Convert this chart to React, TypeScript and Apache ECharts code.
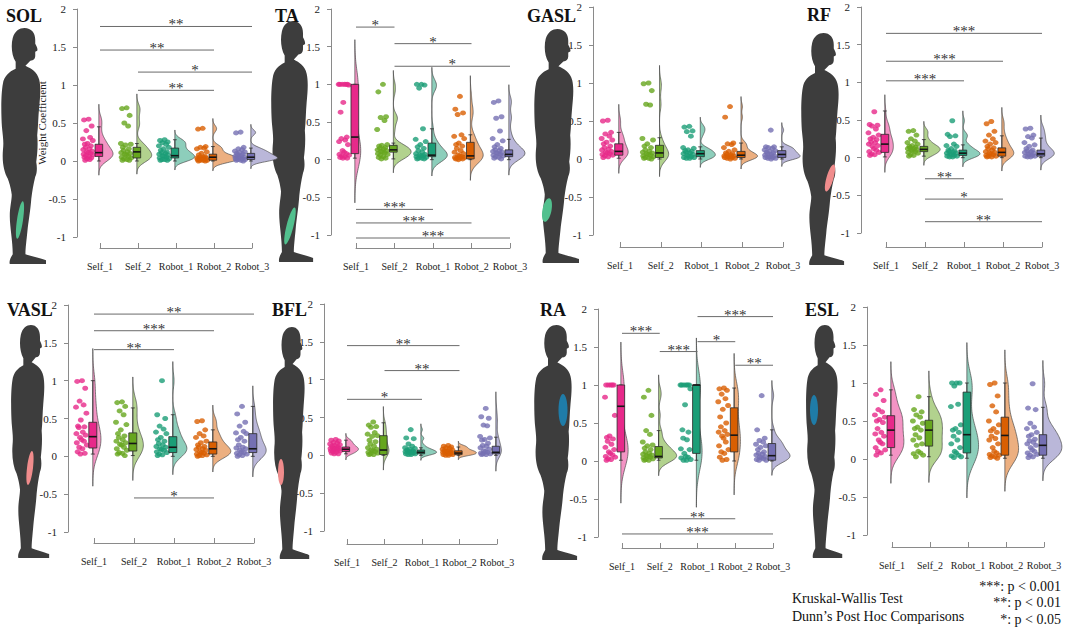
import React, { useEffect, useRef } from "react";
import * as echarts from "echarts";

// ---------------- data ----------------
const CATEGORIES = ["Self_1", "Self_2", "Robot_1", "Robot_2", "Robot_3"];
const MUSCLE_NAMES = ["SOL", "TA", "GASL", "RF", "VASL", "BFL", "RA", "ESL"];
const Y_MIN = -1;
const Y_MAX = 2;
const Y_STEP = 0.5;

// per muscle: one list of weight coefficients per category
const SOL_POINTS = [
  [0.55, 0.54, 0.46, 0.4, 0.31, 0.29, 0.27, 0.23, 0.22, 0.2, 0.18, 0.16, 0.15, 0.13, 0.12, 0.11, 0.1, 0.09, 0.08, 0.07, 0.06, 0.05, 0.04, 0.03, 0.02, 0.01],
  [0.7, 0.69, 0.6, 0.5, 0.46, 0.23, 0.22, 0.21, 0.18, 0.16, 0.14, 0.12, 0.11, 0.1, 0.09, 0.08, 0.06, 0.05, 0.04, 0.03, 0.02, 0.01, 0.01],
  [0.28, 0.27, 0.25, 0.24, 0.22, 0.2, 0.18, 0.16, 0.14, 0.12, 0.11, 0.1, 0.09, 0.08, 0.07, 0.06, 0.05, 0.04, 0.03, 0.02, 0.02, 0.01, 0.01],
  [0.43, 0.42, 0.19, 0.18, 0.17, 0.16, 0.12, 0.1, 0.08, 0.06, 0.05, 0.05, 0.04, 0.04, 0.03, 0.03, 0.02, 0.02, 0.01, 0.01, 0.01, 0.0, 0.0],
  [0.38, 0.37, 0.18, 0.16, 0.15, 0.13, 0.12, 0.11, 0.1, 0.09, 0.08, 0.07, 0.06, 0.05, 0.05, 0.04, 0.03, 0.03, 0.02, 0.02, 0.01, 0.01, 0.0],
];
const TA_POINTS = [
  [1.0, 1.0, 1.0, 1.0, 1.0, 1.0, 0.99, 0.76, 0.63, 0.3, 0.28, 0.26, 0.24, 0.2, 0.12, 0.1, 0.08, 0.07, 0.06, 0.05, 0.04, 0.03, 0.02, 0.02],
  [1.0, 0.9, 0.57, 0.56, 0.52, 0.4, 0.2, 0.19, 0.18, 0.16, 0.15, 0.14, 0.13, 0.12, 0.11, 0.1, 0.09, 0.08, 0.07, 0.06, 0.04, 0.03, 0.02, 0.01],
  [1.0, 1.0, 0.99, 0.95, 0.41, 0.27, 0.24, 0.2, 0.17, 0.15, 0.12, 0.1, 0.08, 0.07, 0.06, 0.05, 0.05, 0.04, 0.03, 0.02, 0.02, 0.01, 0.01],
  [0.84, 0.67, 0.62, 0.6, 0.33, 0.31, 0.28, 0.22, 0.2, 0.18, 0.15, 0.12, 0.1, 0.08, 0.06, 0.05, 0.04, 0.03, 0.03, 0.02, 0.02, 0.01, 0.01, 0.0],
  [0.78, 0.76, 0.57, 0.55, 0.38, 0.28, 0.25, 0.2, 0.17, 0.15, 0.13, 0.12, 0.11, 0.1, 0.09, 0.08, 0.07, 0.06, 0.05, 0.04, 0.03, 0.02, 0.01],
];
const GASL_POINTS = [
  [0.51, 0.5, 0.35, 0.33, 0.3, 0.27, 0.25, 0.22, 0.2, 0.17, 0.15, 0.13, 0.12, 0.1, 0.09, 0.08, 0.07, 0.06, 0.05, 0.04, 0.03, 0.02],
  [1.0, 0.99, 0.9, 0.72, 0.71, 0.27, 0.25, 0.2, 0.17, 0.15, 0.12, 0.1, 0.09, 0.08, 0.07, 0.06, 0.05, 0.04, 0.03, 0.02, 0.01, 0.01, 0.0],
  [0.43, 0.42, 0.37, 0.36, 0.3, 0.15, 0.14, 0.12, 0.11, 0.1, 0.09, 0.08, 0.07, 0.06, 0.05, 0.04, 0.03, 0.02, 0.02, 0.01, 0.01],
  [0.69, 0.55, 0.21, 0.2, 0.19, 0.15, 0.12, 0.1, 0.08, 0.07, 0.06, 0.05, 0.04, 0.04, 0.03, 0.03, 0.02, 0.02, 0.01, 0.01, 0.0],
  [0.38, 0.16, 0.16, 0.15, 0.14, 0.12, 0.11, 0.1, 0.09, 0.08, 0.07, 0.06, 0.05, 0.04, 0.03, 0.03, 0.02, 0.02, 0.01, 0.01, 0.0],
];
const RF_POINTS = [
  [0.61, 0.44, 0.43, 0.42, 0.38, 0.33, 0.3, 0.27, 0.25, 0.24, 0.21, 0.2, 0.18, 0.16, 0.15, 0.12, 0.1, 0.08, 0.07, 0.05, 0.04, 0.03],
  [0.36, 0.35, 0.3, 0.25, 0.22, 0.2, 0.18, 0.16, 0.15, 0.14, 0.13, 0.12, 0.12, 0.11, 0.1, 0.09, 0.08, 0.07, 0.06, 0.04, 0.03, 0.02],
  [0.49, 0.31, 0.29, 0.28, 0.18, 0.16, 0.15, 0.12, 0.1, 0.09, 0.08, 0.07, 0.06, 0.06, 0.05, 0.04, 0.03, 0.02, 0.02, 0.01, 0.01],
  [0.48, 0.45, 0.35, 0.3, 0.25, 0.22, 0.2, 0.18, 0.15, 0.13, 0.12, 0.1, 0.08, 0.07, 0.06, 0.05, 0.04, 0.03, 0.02, 0.02, 0.01, 0.01],
  [0.39, 0.38, 0.3, 0.28, 0.26, 0.2, 0.17, 0.15, 0.12, 0.1, 0.09, 0.08, 0.07, 0.06, 0.05, 0.04, 0.03, 0.02, 0.02, 0.01, 0.01],
];
const VASL_POINTS = [
  [1.0, 0.99, 0.9, 0.73, 0.68, 0.65, 0.57, 0.48, 0.4, 0.39, 0.38, 0.32, 0.3, 0.28, 0.25, 0.22, 0.2, 0.18, 0.15, 0.12, 0.1, 0.06, 0.04, 0.03],
  [0.72, 0.71, 0.66, 0.6, 0.55, 0.45, 0.42, 0.35, 0.3, 0.27, 0.25, 0.22, 0.2, 0.18, 0.16, 0.15, 0.12, 0.1, 0.08, 0.05, 0.04, 0.03, 0.01],
  [1.0, 0.55, 0.5, 0.4, 0.36, 0.32, 0.3, 0.25, 0.22, 0.2, 0.17, 0.15, 0.13, 0.12, 0.1, 0.09, 0.08, 0.06, 0.05, 0.03, 0.02, 0.01],
  [0.47, 0.46, 0.35, 0.3, 0.27, 0.25, 0.2, 0.18, 0.15, 0.13, 0.12, 0.1, 0.09, 0.08, 0.06, 0.05, 0.04, 0.03, 0.02, 0.01, 0.01, 0.0],
  [0.66, 0.56, 0.45, 0.4, 0.33, 0.31, 0.3, 0.25, 0.22, 0.2, 0.15, 0.12, 0.11, 0.1, 0.08, 0.06, 0.05, 0.04, 0.03, 0.02, 0.01, 0.0],
];
const BFL_POINTS = [
  [0.21, 0.2, 0.19, 0.17, 0.16, 0.15, 0.14, 0.13, 0.12, 0.11, 0.1, 0.1, 0.09, 0.09, 0.08, 0.08, 0.07, 0.06, 0.06, 0.05, 0.04, 0.03, 0.02, 0.02],
  [0.44, 0.4, 0.38, 0.37, 0.3, 0.28, 0.26, 0.25, 0.2, 0.18, 0.15, 0.12, 0.1, 0.08, 0.07, 0.06, 0.05, 0.04, 0.03, 0.02, 0.01, 0.01],
  [0.34, 0.23, 0.22, 0.15, 0.12, 0.1, 0.09, 0.08, 0.07, 0.06, 0.06, 0.05, 0.05, 0.04, 0.04, 0.03, 0.03, 0.02, 0.02, 0.01, 0.01],
  [0.13, 0.12, 0.11, 0.1, 0.09, 0.08, 0.07, 0.06, 0.06, 0.05, 0.05, 0.04, 0.04, 0.03, 0.03, 0.02, 0.02, 0.01, 0.01, 0.0, 0.0],
  [0.62, 0.51, 0.49, 0.4, 0.39, 0.25, 0.23, 0.21, 0.2, 0.16, 0.13, 0.12, 0.1, 0.08, 0.06, 0.05, 0.04, 0.03, 0.02, 0.02, 0.01, 0.01],
];
const RA_POINTS = [
  [1.0, 1.0, 1.0, 1.0, 1.0, 0.84, 0.6, 0.33, 0.31, 0.29, 0.26, 0.22, 0.18, 0.15, 0.12, 0.1, 0.08, 0.06, 0.05, 0.03, 0.02, 0.01],
  [0.93, 0.84, 0.6, 0.4, 0.35, 0.25, 0.21, 0.2, 0.17, 0.15, 0.12, 0.1, 0.09, 0.08, 0.07, 0.06, 0.05, 0.04, 0.03, 0.02, 0.01, 0.01],
  [1.0, 1.0, 1.0, 1.0, 1.0, 1.0, 0.95, 0.74, 0.41, 0.38, 0.3, 0.28, 0.16, 0.15, 0.1, 0.06, 0.05, 0.04, 0.02, 0.01, 0.01],
  [0.96, 0.95, 0.93, 0.88, 0.82, 0.78, 0.73, 0.68, 0.58, 0.5, 0.45, 0.4, 0.38, 0.35, 0.33, 0.3, 0.25, 0.2, 0.15, 0.12, 0.1, 0.05, 0.02, 0.01],
  [0.86, 0.41, 0.3, 0.27, 0.25, 0.22, 0.2, 0.18, 0.15, 0.12, 0.1, 0.09, 0.08, 0.06, 0.05, 0.04, 0.03, 0.02, 0.01, 0.01],
];
const ESL_POINTS = [
  [0.91, 0.85, 0.77, 0.65, 0.62, 0.58, 0.55, 0.52, 0.5, 0.48, 0.4, 0.35, 0.33, 0.3, 0.25, 0.22, 0.2, 0.15, 0.12, 0.1, 0.08, 0.05],
  [0.82, 0.65, 0.62, 0.58, 0.55, 0.5, 0.47, 0.42, 0.4, 0.38, 0.32, 0.28, 0.25, 0.2, 0.18, 0.1, 0.08, 0.07, 0.05, 0.03],
  [1.0, 1.0, 1.0, 0.96, 0.72, 0.69, 0.45, 0.4, 0.38, 0.35, 0.3, 0.25, 0.2, 0.15, 0.1, 0.08, 0.05, 0.04, 0.03, 0.02],
  [1.0, 0.98, 0.83, 0.7, 0.62, 0.5, 0.45, 0.4, 0.37, 0.35, 0.3, 0.27, 0.25, 0.2, 0.15, 0.1, 0.08, 0.06, 0.05, 0.04, 0.03, 0.02, 0.01],
  [0.99, 0.67, 0.65, 0.47, 0.42, 0.4, 0.35, 0.32, 0.3, 0.26, 0.24, 0.22, 0.2, 0.18, 0.15, 0.12, 0.1, 0.08, 0.06, 0.05, 0.03, 0.02],
];

// box statistics per category: [lower whisker, Q1, median, Q3, upper whisker]
const SOL_BOX = [[0.0, 0.06, 0.11, 0.22, 0.45], [0.0, 0.04, 0.12, 0.18, 0.23], [0.0, 0.04, 0.07, 0.17, 0.28], [0.0, 0.01, 0.05, 0.09, 0.19], [0.0, 0.02, 0.05, 0.1, 0.17]];
const TA_BOX = [[0.02, 0.08, 0.3, 1.0, 1.0], [0.01, 0.1, 0.13, 0.19, 0.22], [0.0, 0.04, 0.06, 0.22, 0.41], [0.0, 0.01, 0.05, 0.23, 0.33], [0.0, 0.04, 0.07, 0.13, 0.27]];
const GASL_BOX = [[0.01, 0.05, 0.1, 0.2, 0.35], [0.0, 0.02, 0.08, 0.18, 0.28], [0.0, 0.03, 0.07, 0.11, 0.16], [0.0, 0.02, 0.05, 0.1, 0.21], [0.0, 0.02, 0.06, 0.11, 0.16]];
const RF_BOX = [[0.01, 0.07, 0.18, 0.31, 0.62], [0.02, 0.08, 0.11, 0.15, 0.24], [0.0, 0.03, 0.06, 0.1, 0.17], [0.0, 0.02, 0.07, 0.13, 0.29], [0.0, 0.02, 0.05, 0.1, 0.26]];
const VASL_BOX = [[0.03, 0.11, 0.26, 0.45, 1.0], [0.01, 0.07, 0.17, 0.31, 0.64], [0.0, 0.05, 0.12, 0.26, 0.55], [0.0, 0.03, 0.1, 0.19, 0.35], [0.0, 0.05, 0.1, 0.3, 0.66]];
const BFL_BOX = [[0.02, 0.05, 0.08, 0.11, 0.2], [0.0, 0.01, 0.07, 0.26, 0.43], [0.0, 0.02, 0.04, 0.07, 0.1], [0.0, 0.01, 0.03, 0.06, 0.11], [0.0, 0.02, 0.04, 0.12, 0.24]];
const RA_BOX = [[0.01, 0.12, 0.72, 1.0, 1.0], [0.01, 0.04, 0.06, 0.19, 0.4], [0.01, 0.1, 1.0, 1.0, 1.0], [0.0, 0.12, 0.34, 0.7, 0.96], [0.0, 0.01, 0.07, 0.23, 0.41]];
const ESL_BOX = [[0.05, 0.15, 0.38, 0.57, 0.91], [0.03, 0.17, 0.38, 0.51, 0.82], [0.01, 0.08, 0.32, 0.88, 1.0], [0.01, 0.05, 0.31, 0.55, 1.0], [0.01, 0.05, 0.18, 0.32, 0.68]];

// Dunn's post hoc comparisons: [from category (1-based), to category, bar height, label]
const SOL_SIG = [[1, 5, 1.77, "**"], [1, 4, 1.46, "**"], [2, 5, 1.17, "*"], [2, 4, 0.93, "**"]];
const TA_SIG = [[1, 2, 1.76, "*"], [2, 4, 1.54, "*"], [2, 5, 1.24, "*"], [1, 3, -0.66, "***"], [1, 4, -0.84, "***"], [1, 5, -1.04, "***"]];
const GASL_SIG: any[] = [];
const RF_SIG = [[1, 5, 1.65, "***"], [1, 4, 1.28, "***"], [1, 3, 1.02, "***"], [2, 3, -0.28, "**"], [2, 4, -0.55, "*"], [2, 5, -0.85, "**"]];
const VASL_SIG = [[1, 5, 1.88, "**"], [1, 4, 1.66, "***"], [1, 3, 1.41, "**"], [2, 4, -0.55, "*"]];
const BFL_SIG = [[1, 4, 1.45, "**"], [2, 4, 1.12, "**"], [1, 3, 0.74, "*"]];
const RA_SIG = [[3, 5, 1.9, "***"], [1, 2, 1.68, "***"], [3, 4, 1.57, "*"], [2, 3, 1.44, "***"], [4, 5, 1.26, "**"], [2, 4, -0.76, "**"], [1, 5, -0.96, "***"]];
const ESL_SIG: any[] = [];

const LEGEND_LEFT = ["Kruskal-Wallis Test", "Dunn\u2019s Post Hoc Comparisons"];
const LEGEND_RIGHT = ["***: p < 0.001", "**: p < 0.01", "*: p < 0.05"];

const POINTS = [SOL_POINTS, TA_POINTS, GASL_POINTS, RF_POINTS, VASL_POINTS, BFL_POINTS, RA_POINTS, ESL_POINTS];
const BOXES = [SOL_BOX, TA_BOX, GASL_BOX, RF_BOX, VASL_BOX, BFL_BOX, RA_BOX, ESL_BOX];
const SIGS = [SOL_SIG, TA_SIG, GASL_SIG, RF_SIG, VASL_SIG, BFL_SIG, RA_SIG, ESL_SIG];

// ---------------- styles / layout ----------------
const FONT = "'Liberation Serif', 'Times New Roman', serif";
const GROUP_COLORS = ["#E7298A", "#66A61E", "#1B9E77", "#D95F02", "#7570B3"];
const VIOLIN_FILLS = ["#F394C4", "#B2D28E", "#8DCEBB", "#ECAF80", "#BAB7D9"];
const GREEN = "#52C08E";
const PINK = "#F08C8C";
const BLUE = "#1F7CA8";
const JITTER = [-0.3, -0.42, -0.22, -0.36, -0.26, -0.45, -0.19, -0.33, -0.4, -0.24, -0.38, -0.28, -0.44, -0.21, -0.35, -0.31, -0.25, -0.43, -0.18, -0.37, -0.29, -0.41, -0.23, -0.34, -0.27, -0.39, -0.2, -0.32];
const BOX_OFFSET = -0.03;
const BOX_HALF = 0.1;
const CAP_HALF = 0.05;

const LAYOUT = [
  { grid: { left: 100, top: 9, width: 152, height: 228 }, yOff: 23, xOff: 11, sil: [0, 28, 47, 236], title: [6, 16], muscle: [20, 220, 3, 19, -0.15], mColor: GREEN, vw: 0.7 },
  { grid: { left: 356, top: 9, width: 154, height: 226 }, yOff: 25, xOff: 13, sil: [270, 21, 44, 241], title: [275, 16], muscle: [290, 226, 3.5, 19, -0.25], mColor: GREEN, vw: 0.46 },
  { grid: { left: 620, top: 7, width: 163, height: 228 }, yOff: 27, xOff: 12, sil: [533, 29, 47, 234], title: [527, 16], muscle: [547, 210, 4.5, 12, -0.2], mColor: GREEN, vw: 0.45 },
  { grid: { left: 886, top: 7, width: 156, height: 226 }, yOff: 25, xOff: 14, sil: [800, 33, 45, 232], title: [807, 15], muscle: [830, 178, 3.5, 14, -0.28], mColor: PINK, vw: 0.44 },
  { grid: { left: 94, top: 305, width: 160, height: 227 }, yOff: 26, xOff: 11, sil: [10, 325, 40, 233], title: [7, 310], muscle: [30, 468, 3, 17, -0.12], mColor: PINK, vw: 0.45 },
  { grid: { left: 347, top: 304, width: 150, height: 227 }, yOff: 23, xOff: 13, sil: [272, 327, 38, 232], title: [272, 310], muscle: [281, 472, 3, 13, 0], mColor: PINK, vw: 0.48 },
  { grid: { left: 622, top: 309, width: 151, height: 228 }, yOff: 24, xOff: 11, sil: [533, 325, 45, 235], title: [540, 310], muscle: [563, 410, 4.5, 16, 0], mColor: BLUE, vw: 0.48 },
  { grid: { left: 892, top: 307, width: 152, height: 228 }, yOff: 25, xOff: 12, sil: [805, 325, 38, 233], title: [805, 310], muscle: [814, 410, 4, 15, 0], mColor: BLUE, vw: 0.5 },
];

// human silhouette (side view, facing right) in a 48 x 238 box
const HUMAN_PATH =
  "M 25 0 C 32 0 36 5 36 12 L 36 16 C 37 18 39 21 38 23 L 36 24 L 36 28 C 36 31 34 33 31 33 L 26 38 " +
  "C 32 41 38 44 40 52 C 42 60 41 70 40 80 C 39 90 39 100 38 108 C 39 118 38 128 37 135 " +
  "C 38 140 38 146 36 150 C 34 158 33 164 32 172 C 31 185 29 195 28 205 C 27 215 26 222 26 228 " +
  "C 32 230 42 232 47 234 L 47 238 L 10 238 C 9 235 11 231 13 228 C 13 215 10 200 10 190 " +
  "C 10 180 12 174 12 168 C 11 160 9 155 8 152 C 4 145 2 135 3 123 C 4 115 3 110 2 100 " +
  "C 1 85 1 66 3 56 C 4 49 9 44 16 41 L 16 34 C 12 28 11 18 13 10 C 15 3 20 0 25 0 Z";
const HUMAN_W = 48;
const HUMAN_H = 238;

let shapeRegistered = false;
function registerHuman() {
  if (shapeRegistered) return;
  echarts.graphic.registerShape("human", echarts.graphic.extendPath(HUMAN_PATH, {}) as any);
  shapeRegistered = true;
}

// ---------------- helpers ----------------
function quantile(sorted: number[], q: number) {
  const pos = (sorted.length - 1) * q;
  const lo = Math.floor(pos);
  const hi = Math.ceil(pos);
  return sorted[lo] + (sorted[hi] - sorted[lo]) * (pos - lo);
}

function kde(values: number[]) {
  const n = values.length;
  const sorted = [...values].sort((a, b) => a - b);
  const mean = values.reduce((s, v) => s + v, 0) / n;
  const sd = Math.sqrt(values.reduce((s, v) => s + (v - mean) * (v - mean), 0) / (n - 1));
  const iqr = quantile(sorted, 0.75) - quantile(sorted, 0.25);
  let s = Math.min(sd, iqr / 1.34);
  if (!(s > 0)) s = sd > 0 ? sd : 0.05;
  const bw = 0.9 * s * Math.pow(n, -0.2);
  const lo = sorted[0] - 3 * bw;
  const hi = sorted[n - 1] + 3 * bw;
  const steps = 90;
  const ys: number[] = [];
  const ds: number[] = [];
  for (let i = 0; i <= steps; i++) {
    const y = lo + ((hi - lo) * i) / steps;
    let d = 0;
    for (const v of values) {
      const z = (y - v) / bw;
      d += Math.exp(-0.5 * z * z);
    }
    ys.push(y);
    ds.push(d / (n * bw * Math.sqrt(2 * Math.PI)));
  }
  return { ys, ds };
}

function buildOption() {
  const grids: any[] = [];
  const xAxes: any[] = [];
  const yAxes: any[] = [];
  const series: any[] = [];
  const graphics: any[] = [];
  const axisColor = "#8a8a8a";

  LAYOUT.forEach((L, p) => {
    grids.push({ ...L.grid });
    xAxes.push({
      gridIndex: p,
      type: "value",
      min: 1,
      max: 5,
      interval: 1,
      position: "bottom",
      offset: L.xOff,
      axisLine: { show: true, onZero: false, lineStyle: { color: axisColor, width: 1 } },
      axisTick: { show: true, inside: true, length: 5, lineStyle: { color: axisColor } },
      axisLabel: {
        formatter: (v: number) => CATEGORIES[Math.round(v) - 1] ?? "",
        color: "#222",
        fontFamily: FONT,
        fontSize: 10,
        margin: 13,
        showMinLabel: true,
        showMaxLabel: true,
        hideOverlap: false,
      },
      splitLine: { show: false },
    });
    yAxes.push({
      gridIndex: p,
      type: "value",
      min: Y_MIN,
      max: Y_MAX,
      interval: Y_STEP,
      position: "left",
      offset: L.yOff,
      axisLine: { show: true, lineStyle: { color: axisColor, width: 1 } },
      axisTick: { show: true, length: 4, lineStyle: { color: axisColor } },
      axisLabel: { color: "#222", fontFamily: FONT, fontSize: 11, margin: 11, showMinLabel: true, showMaxLabel: true },
      splitLine: { show: false },
    });

    const pts = POINTS[p];
    const kdes = pts.map(kde);
    const maxD = Math.max(...kdes.map((k) => Math.max(...k.ds)));
    const polys = kdes.map((k, g) => {
      const base = g + 1 + BOX_OFFSET;
      const right = k.ys.map((y, i) => [base + (k.ds[i] / maxD) * L.vw, y]);
      return [[base, k.ys[0]], ...right, [base, k.ys[k.ys.length - 1]]];
    });

    // half violins
    series.push({
      type: "custom",
      xAxisIndex: p,
      yAxisIndex: p,
      clip: false,
      z: 2,
      silent: true,
      itemStyle: { color: "#4a4a4a" },
      data: CATEGORIES.map((_, g) => [g + 1, 0]),
      renderItem: (params: any, api: any) => ({
        type: "polygon",
        shape: { points: polys[params.dataIndex].map((pt) => api.coord(pt)) },
        style: { fill: VIOLIN_FILLS[params.dataIndex], stroke: "#4a4a4a", lineWidth: 0.7 },
      }),
    });

    // jittered raw points
    series.push({
      type: "scatter",
      xAxisIndex: p,
      yAxisIndex: p,
      clip: false,
      z: 3,
      silent: true,
      symbol: "circle",
      symbolSize: [6, 5],
      data: pts.flatMap((arr, g) =>
        arr.map((v, j) => ({ value: [g + 1 + JITTER[j % JITTER.length], v], itemStyle: { color: GROUP_COLORS[g] } }))
      ),
    });

    // box plots
    const boxes = BOXES[p];
    series.push({
      type: "custom",
      xAxisIndex: p,
      yAxisIndex: p,
      clip: false,
      z: 4,
      silent: true,
      itemStyle: { color: "#2b2b2b" },
      data: boxes.map((b, g) => [g + 1, b[2]]),
      renderItem: (params: any, api: any) => {
        const g = params.dataIndex;
        const b = boxes[g];
        const cx = g + 1 + BOX_OFFSET;
        const [xc, yLo] = api.coord([cx, b[0]]);
        const [xL, yQ3] = api.coord([cx - BOX_HALF, b[3]]);
        const [xR, yQ1] = api.coord([cx + BOX_HALF, b[1]]);
        const yMed = api.coord([cx, b[2]])[1];
        const yHi = api.coord([cx, b[4]])[1];
        const capL = api.coord([cx - CAP_HALF, 0])[0];
        const capR = api.coord([cx + CAP_HALF, 0])[0];
        const ls = { stroke: "#2b2b2b", lineWidth: 0.8 };
        return {
          type: "group",
          children: [
            { type: "line", shape: { x1: xc, y1: yLo, x2: xc, y2: yQ1 }, style: ls },
            { type: "line", shape: { x1: xc, y1: yQ3, x2: xc, y2: yHi }, style: ls },
            { type: "line", shape: { x1: capL, y1: yLo, x2: capR, y2: yLo }, style: ls },
            { type: "line", shape: { x1: capL, y1: yHi, x2: capR, y2: yHi }, style: ls },
            {
              type: "rect",
              shape: { x: xL, y: yQ3, width: xR - xL, height: Math.max(yQ1 - yQ3, 0.5) },
              style: { fill: GROUP_COLORS[g], stroke: "#2b2b2b", lineWidth: 0.8 },
            },
            { type: "line", shape: { x1: xL, y1: yMed, x2: xR, y2: yMed }, style: { stroke: "#151515", lineWidth: 1.6 } },
          ],
        };
      },
    });

    // significance bars
    const sigs = SIGS[p];
    if (sigs.length) {
      series.push({
        type: "custom",
        xAxisIndex: p,
        yAxisIndex: p,
        clip: false,
        z: 5,
        silent: true,
        itemStyle: { color: "#333333" },
        data: sigs.map((s: any) => [(s[0] + s[1]) / 2, s[2]]),
        renderItem: (params: any, api: any) => {
          const s = sigs[params.dataIndex];
          const [x1, y] = api.coord([s[0], s[2]]);
          const x2 = api.coord([s[1], s[2]])[0];
          return {
            type: "group",
            children: [
              { type: "line", shape: { x1, y1: y, x2, y2: y }, style: { stroke: "#6a6a6a", lineWidth: 1 } },
              {
                type: "text",
                x: (x1 + x2) / 2,
                y: y - 2,
                style: { text: s[3], fill: "#333333", fontSize: 15, fontFamily: FONT, align: "center", verticalAlign: "middle" },
              },
            ],
          };
        },
      });
    }

    // silhouette, muscle highlight, title
    const [sx, sy, sw, sh] = L.sil;
    graphics.push({ type: "human", x: sx, y: sy, scaleX: sw / HUMAN_W, scaleY: sh / HUMAN_H, z: 1, silent: true, style: { fill: "#3d3d3d" } });
    const [mx, my, rx, ry, rot] = L.muscle;
    graphics.push({ type: "ellipse", x: mx, y: my, rotation: rot, z: 2, silent: true, shape: { cx: 0, cy: 0, rx, ry }, style: { fill: L.mColor } });
    graphics.push({
      type: "text",
      x: L.title[0],
      y: L.title[1],
      z: 3,
      silent: true,
      style: { text: MUSCLE_NAMES[p], fill: "#111", fontSize: 18, fontWeight: "bold", fontFamily: FONT, align: "left", verticalAlign: "middle" },
    });
  });

  graphics.push({
    type: "text",
    x: 42,
    y: 123,
    rotation: Math.PI / 2,
    silent: true,
    style: { text: "Weight Coefficient", fill: "#222", fontSize: 11, fontFamily: FONT, align: "center", verticalAlign: "middle" },
  });

  LEGEND_LEFT.forEach((t, i) => {
    graphics.push({
      type: "text",
      x: 792,
      y: 598 + i * 18,
      silent: true,
      style: { text: t, fill: "#111", fontSize: 14, fontFamily: FONT, align: "left", verticalAlign: "middle" },
    });
  });
  LEGEND_RIGHT.forEach((t, i) => {
    graphics.push({
      type: "text",
      x: 1061,
      y: 586 + i * 16.5,
      silent: true,
      style: { text: t, fill: "#111", fontSize: 14, fontFamily: FONT, align: "right", verticalAlign: "middle" },
    });
  });

  return {
    animation: false,
    backgroundColor: "#ffffff",
    textStyle: { fontFamily: FONT },
    grid: grids,
    xAxis: xAxes,
    yAxis: yAxes,
    series,
    graphic: { elements: graphics },
  };
}

export default function App() {
  const ref = useRef<HTMLDivElement>(null);
  useEffect(() => {
    registerHuman();
    const chart = echarts.init(ref.current!, null, { renderer: "svg" });
    chart.setOption(buildOption() as any);
    return () => chart.dispose();
  }, []);
  return (
    <div
      ref={ref}
      style={{ position: "absolute", left: 0, top: 0, width: 1065, height: 629, background: "#fff" }}
    />
  );
}
